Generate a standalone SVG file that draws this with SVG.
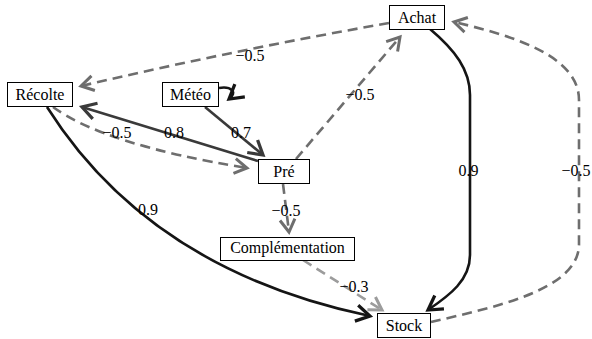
<svg xmlns="http://www.w3.org/2000/svg" width="592" height="339" viewBox="0 0 592 339">
<style>
.node rect{fill:#fff;stroke:#000;stroke-width:1}
text{font-family:"Liberation Serif","DejaVu Serif","Times New Roman",serif;font-size:16px;fill:#000;text-anchor:middle}
.e{fill:none;stroke-width:2.6}
.blk{stroke:#151515}
.dk{stroke:#3a3a3a}
.gr{stroke:#6e6e6e;stroke-dasharray:10 6}
.lt{stroke:#9c9c9c;stroke-dasharray:10 6}
</style>
<defs>
<marker id="mb" markerUnits="userSpaceOnUse" markerWidth="20" markerHeight="20" viewBox="-12 -8 14 16" refX="0" refY="0" orient="auto"><path d="M-11,-6.5 L0,0 L-11,6.5" fill="none" stroke="#151515" stroke-width="2.6"/></marker>
<marker id="md" markerUnits="userSpaceOnUse" markerWidth="20" markerHeight="20" viewBox="-12 -8 14 16" refX="0" refY="0" orient="auto"><path d="M-11,-6.5 L0,0 L-11,6.5" fill="none" stroke="#3a3a3a" stroke-width="2.6"/></marker>
<marker id="mg" markerUnits="userSpaceOnUse" markerWidth="20" markerHeight="20" viewBox="-12 -8 14 16" refX="0" refY="0" orient="auto"><path d="M-10,-6 L0,0 L-10,6" fill="none" stroke="#6e6e6e" stroke-width="2.4"/></marker>
<marker id="ml" markerUnits="userSpaceOnUse" markerWidth="20" markerHeight="20" viewBox="-12 -8 14 16" refX="0" refY="0" orient="auto"><path d="M-10,-6 L0,0 L-10,6" fill="none" stroke="#9c9c9c" stroke-width="2.4"/></marker>
</defs>
<g id="connectors">
<path class="e gr" d="M389,23 Q235,50 81,86" marker-end="url(#mg)"/>
<path class="e blk" d="M430,29 C455,50 470,70 470,95 L470,255 C470,280 450,295 428,310" marker-end="url(#mb)"/>
<path class="e gr" d="M431,322 C495,307 578,290 579,245 L579,100 C579,55 510,35 454,22" marker-end="url(#mg)"/>
<path class="e blk" d="M47,107 Q150,270 370,316" marker-end="url(#mb)"/>
<path class="e dk" d="M258,161 L82,107" marker-end="url(#md)"/>
<path class="e gr" d="M53,107 Q105,145 247,168" marker-end="url(#mg)"/>
<path class="e dk" d="M205,107 L263,155" marker-end="url(#md)"/>
<path class="e blk" d="M219,88 C231,86 238,92 229,99" marker-end="url(#mb)"/>
<path class="e gr" d="M296,159 L400,37" marker-end="url(#mg)"/>
<path class="e gr" d="M283,184 L289,232" marker-end="url(#mg)"/>
<path class="e lt" d="M303,260 L382,310" marker-end="url(#ml)"/>
<text x="250" y="61">−0.5</text>
<text x="117" y="138">−0.5</text>
<text x="174" y="138">0.8</text>
<text x="241" y="138">0.7</text>
<text x="360" y="100">−0.5</text>
<text x="468.5" y="176">0.9</text>
<text x="576" y="176">−0.5</text>
<text x="148" y="215">0.9</text>
<text x="286" y="216">−0.5</text>
<text x="354" y="292">−0.3</text>
</g>
<g id="Recolte" class="node"><rect x="7.5" y="82.5" width="65" height="24"/><text x="40" y="100">Récolte</text></g>
<g id="Meteo" class="node"><rect x="162.5" y="82.5" width="56" height="24"/><text x="190.5" y="100">Météo</text></g>
<g id="Achat" class="node"><rect x="389.5" y="5.5" width="55" height="24"/><text x="417" y="23">Achat</text></g>
<g id="Pre" class="node"><rect x="258.5" y="159.5" width="51" height="24"/><text x="284" y="177">Pré</text></g>
<g id="Complementation" class="node"><rect x="220.5" y="237.5" width="134" height="23"/><text x="287.5" y="253">Complémentation</text></g>
<g id="Stock" class="node"><rect x="377.5" y="313.5" width="53" height="24"/><text x="404" y="331">Stock</text></g>
</svg>
